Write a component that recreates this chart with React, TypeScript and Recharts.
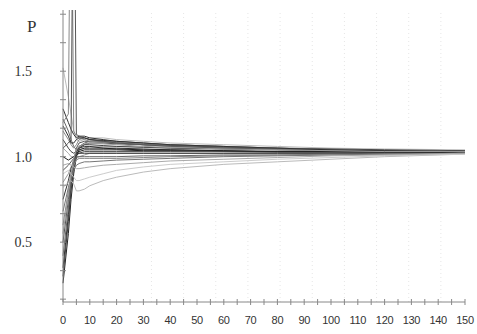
import React from 'react';
import { LineChart, Line, XAxis, YAxis, ReferenceLine } from 'recharts';

const xs = [0, 2, 3, 4, 5, 6, 8, 10, 15, 20, 30, 40, 60, 80, 100, 120, 150];

const s1 = [1.52, 1.35, 1.25, 1.15, 1.1, 1.09, 1.1, 1.11, 1.11, 1.1, 1.09, 1.08, 1.07, 1.06, 1.05, 1.045, 1.04];
const s2 = [1.28, 1.2, 1.16, 1.13, 1.11, 1.12, 1.12, 1.11, 1.1, 1.09, 1.08, 1.07, 1.06, 1.05, 1.045, 1.04, 1.035];
const s3 = [1.22, 1.15, 1.1, 1.06, 1.04, 1.06, 1.08, 1.09, 1.09, 1.08, 1.07, 1.065, 1.055, 1.05, 1.04, 1.035, 1.03];
const s4 = [1.15, 1.1, 1.07, 1.05, 1.07, 1.1, 1.11, 1.1, 1.09, 1.085, 1.075, 1.07, 1.06, 1.05, 1.04, 1.035, 1.03];
const s5 = [1.1, 1.05, 1.03, 1.02, 1.03, 1.05, 1.07, 1.08, 1.08, 1.075, 1.07, 1.06, 1.05, 1.045, 1.04, 1.03, 1.03];
const s6 = [1.05, 1.02, 1.0, 1.0, 1.02, 1.04, 1.05, 1.06, 1.06, 1.06, 1.055, 1.05, 1.045, 1.04, 1.035, 1.03, 1.025];
const s7 = [1.0, 0.98, 0.99, 1.0, 1.02, 1.03, 1.04, 1.04, 1.04, 1.04, 1.035, 1.035, 1.03, 1.03, 1.025, 1.025, 1.025];
const s8 = [0.92, 0.95, 0.97, 0.99, 1.01, 1.02, 1.03, 1.03, 1.03, 1.03, 1.03, 1.03, 1.03, 1.025, 1.025, 1.025, 1.02];
const s9 = [0.85, 0.9, 0.94, 0.97, 0.99, 1.0, 1.01, 1.02, 1.02, 1.02, 1.02, 1.02, 1.02, 1.02, 1.02, 1.02, 1.02];
const s10 = [0.75, 0.86, 0.93, 0.98, 1.03, 1.05, 1.06, 1.06, 1.05, 1.05, 1.045, 1.04, 1.035, 1.03, 1.03, 1.025, 1.025];
const s11 = [0.26, 0.55, 0.75, 0.9, 1.0, 1.04, 1.05, 1.05, 1.05, 1.045, 1.04, 1.04, 1.035, 1.03, 1.03, 1.03, 1.025];
const s12 = [0.3, 0.62, 0.8, 0.93, 1.02, 1.06, 1.07, 1.07, 1.065, 1.06, 1.055, 1.05, 1.045, 1.04, 1.035, 1.03, 1.03];
const s13 = [0.35, 0.66, 0.83, 0.95, 1.01, 1.02, 1.02, 1.02, 1.02, 1.02, 1.02, 1.02, 1.02, 1.02, 1.02, 1.02, 1.02];
const s14 = [0.42, 0.7, 0.85, 0.96, 1.0, 1.0, 1.0, 1.0, 1.0, 1.0, 1.005, 1.005, 1.01, 1.01, 1.015, 1.015, 1.02];
const s15 = [0.5, 0.75, 0.88, 0.97, 1.05, 1.08, 1.09, 1.09, 1.085, 1.08, 1.07, 1.065, 1.055, 1.045, 1.04, 1.035, 1.03];
const s16 = [0.6, 0.8, 0.9, 0.95, 0.98, 0.99, 0.99, 0.99, 0.99, 0.99, 0.995, 1.0, 1.005, 1.01, 1.01, 1.015, 1.02];
const s17 = [0.68, 0.82, 0.88, 0.92, 0.95, 0.96, 0.97, 0.97, 0.975, 0.98, 0.985, 0.99, 1.0, 1.005, 1.01, 1.015, 1.02];
const s18 = [0.82, 0.85, 0.86, 0.84, 0.8, 0.8, 0.81, 0.83, 0.86, 0.88, 0.91, 0.93, 0.955, 0.97, 0.985, 1.0, 1.015];
const s19 = [0.9, 0.92, 0.9, 0.88, 0.86, 0.86, 0.87, 0.88, 0.9, 0.92, 0.94, 0.955, 0.97, 0.985, 0.995, 1.005, 1.015];
const s20 = [0.95, 0.96, 0.95, 0.94, 0.93, 0.93, 0.935, 0.94, 0.95, 0.955, 0.965, 0.975, 0.985, 0.995, 1.005, 1.01, 1.02];
const s21 = [1.2, 1.25, 3.0, 1.15, 1.12, 1.11, 1.1, 1.09, 1.085, 1.08, 1.07, 1.06, 1.05, 1.045, 1.04, 1.035, 1.03];
const s22 = [1.05, 1.08, 1.1, 3.0, 1.13, 1.12, 1.11, 1.1, 1.09, 1.08, 1.07, 1.06, 1.05, 1.045, 1.04, 1.035, 1.03];
const s23 = [1.18, 1.12, 1.08, 1.08, 1.1, 1.11, 1.11, 1.1, 1.095, 1.09, 1.08, 1.07, 1.06, 1.05, 1.04, 1.035, 1.03];
const s24 = [0.55, 0.78, 0.9, 0.99, 1.04, 1.06, 1.075, 1.08, 1.075, 1.07, 1.06, 1.055, 1.045, 1.04, 1.035, 1.03, 1.03];

const allSeries = [s1, s2, s3, s4, s5, s6, s7, s8, s9, s10, s11, s12, s13, s14, s15, s16, s17, s18, s19, s20, s21, s22, s23, s24];

const xTicks = [0, 5, 10, 15, 20, 25, 30, 35, 40, 45, 50, 55, 60, 65, 70, 75, 80, 85, 90, 95, 100, 105, 110, 115, 120, 125, 130, 135, 140, 145, 150];
const yTicks = [0.1667, 0.3333, 0.5, 0.6667, 0.8333, 1.0, 1.1667, 1.3333, 1.5, 1.6667, 1.8333];
const yLabelValues = [0.5, 1.0, 1.5];
const gridXs = [33, 45, 57, 69, 81, 93, 105, 117, 129, 141];

const lineColors = ['#bbb', '#333', '#666', '#888', '#444', '#aaa', '#222', '#555', '#999', '#333', '#222', '#444', '#333', '#666', '#555', '#888', '#777', '#bbb', '#ccc', '#aaa', '#888', '#555', '#333', '#999'];

const data = xs.map((x, i) => {
  const row: any = { x };
  allSeries.forEach((s, j) => {
    row['s' + (j + 1)] = s[i];
  });
  return row;
});

const XTick = (props: any) => {
  const { x, y, payload } = props;
  const v = payload.value;
  return (
    <g>
      <line x1={x} x2={x} y1={y - 3} y2={y + 3} stroke="#888" />
      {v % 10 === 0 && (
        <text x={x} y={y + 22} textAnchor="middle" fontSize={11} fontFamily="'Liberation Sans', Arial, sans-serif" fill="#333" letterSpacing={-0.3}>
          {v}
        </text>
      )}
    </g>
  );
};

const YTick = (props: any) => {
  const { x, y, payload } = props;
  const v = payload.value;
  const show = yLabelValues.some((l) => Math.abs(l - v) < 1e-6);
  return (
    <g>
      <line x1={x - 3} x2={x + 3} y1={y} y2={y} stroke="#888" />
      {show && (
        <text x={x - 31} y={y + 5} textAnchor="end" fontSize={14} fontFamily="'Liberation Serif', 'Times New Roman', serif" fill="#333">
          {v.toFixed(1)}
        </text>
      )}
    </g>
  );
};

export default function App() {
  return (
    <div style={{ position: 'absolute', left: 0, top: 0, width: 477, height: 334, background: '#fff' }}>
      <LineChart width={477} height={334} data={data} margin={{ top: 10, right: 12, left: 0, bottom: 0 }}>
        {gridXs.map((g) => (
          <ReferenceLine key={g} x={g} stroke="#e6e6e6" strokeDasharray="1 3" ifOverflow="hidden" />
        ))}
        <XAxis
          dataKey="x"
          type="number"
          domain={[0, 150]}
          ticks={xTicks}
          interval={0}
          height={32}
          tickSize={0}
          tickMargin={0}
          tickLine={false}
          axisLine={{ stroke: '#888' }}
          tick={<XTick />}
        />
        <YAxis
          type="number"
          domain={[0.15, 1.858]}
          allowDataOverflow
          ticks={yTicks}
          interval={0}
          width={63}
          tickSize={0}
          tickMargin={0}
          tickLine={false}
          axisLine={{ stroke: '#888' }}
          tick={<YTick />}
        />
        {allSeries.map((_, j) => (
          <Line
            key={j}
            type="linear"
            dataKey={'s' + (j + 1)}
            stroke={lineColors[j]}
            strokeWidth={1}
            dot={false}
            activeDot={false}
            isAnimationActive={false}
          />
        ))}
      </LineChart>
      <span
        style={{
          position: 'absolute',
          left: 27,
          top: 18,
          fontFamily: "'Liberation Serif', 'Times New Roman', serif",
          fontSize: 17,
          lineHeight: '17px',
          color: '#333',
        }}
      >
        P
      </span>
    </div>
  );
}
